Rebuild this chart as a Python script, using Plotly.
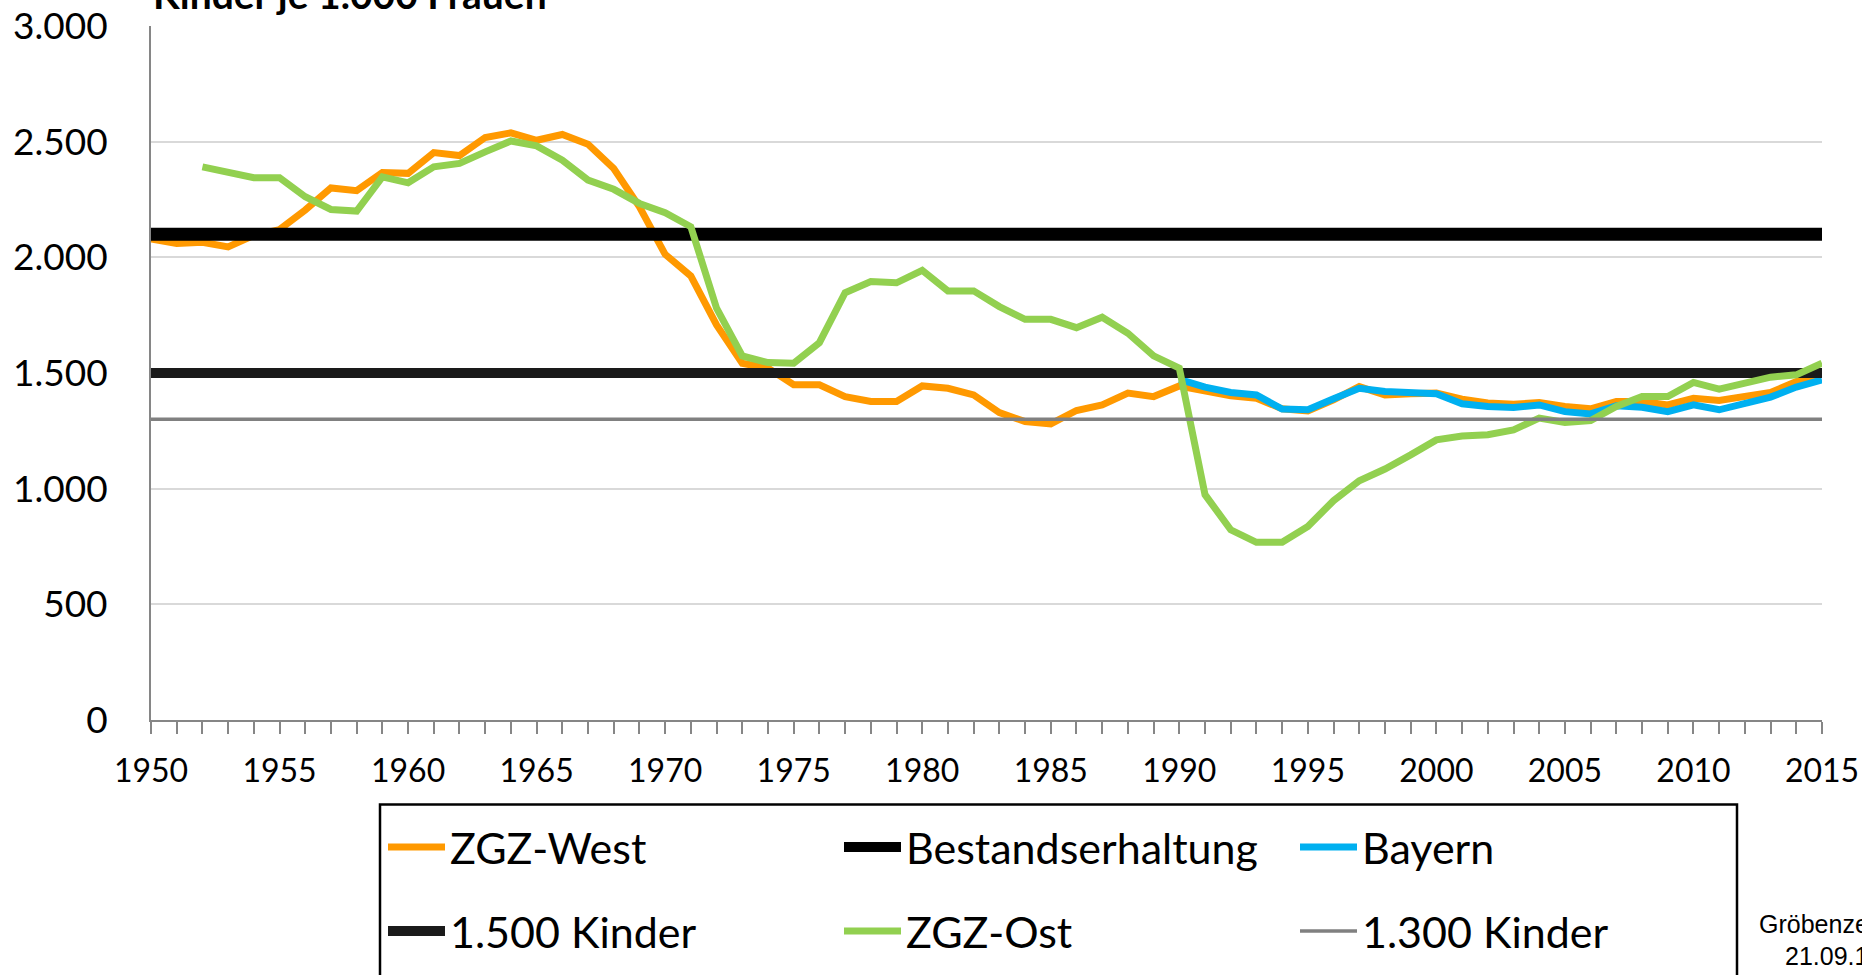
import plotly.graph_objects as go

# ---------------- data ----------------
years = list(range(1950, 2016))
zgz_west = [2080, 2060, 2065, 2045, 2095, 2120, 2205, 2300, 2288, 2367,
            2363, 2453, 2440, 2518, 2538, 2506, 2531, 2489, 2384, 2218,
            2013, 1919, 1708, 1542, 1521, 1449, 1449, 1398, 1377, 1377,
            1444, 1434, 1405, 1329, 1290, 1280, 1338, 1362, 1413, 1398,
            1444, 1420, 1401, 1391, 1345, 1336, 1384, 1441, 1405, 1410,
            1413, 1387, 1370, 1365, 1372, 1355, 1345, 1377, 1377, 1362,
            1391, 1381, 1401, 1416, 1463, 1495]

years_ost = list(range(1952, 2016))
zgz_ost = [2391, 2365, 2344, 2344, 2262, 2207, 2200, 2348,
           2322, 2391, 2406, 2456, 2503, 2482, 2420, 2334, 2294, 2233,
           2193, 2132, 1780, 1574, 1545, 1542, 1631, 1847, 1895, 1890,
           1944, 1855, 1855, 1787, 1732, 1732, 1696, 1741, 1672, 1574,
           1521, 974, 822, 768, 768, 837, 948, 1034, 1085, 1146,
           1211, 1228, 1233, 1254, 1305, 1286, 1294, 1355, 1398, 1398,
           1459, 1430, 1456, 1482, 1492, 1542]

years_bayern = list(range(1990, 2016))
bayern = [1472, 1439, 1416, 1405, 1344, 1341, 1389, 1434, 1420, 1413,
          1410, 1367, 1355, 1351, 1362, 1333, 1323, 1358, 1352, 1333,
          1362, 1341, 1372, 1396, 1439, 1470]

ref_years = [1950, 2015]
bestandserhaltung = [2100, 2100]
kinder_1500 = [1500, 1500]
kinder_1300 = [1300, 1300]

x_ticks = [1950, 1955, 1960, 1965, 1970, 1975, 1980, 1985, 1990, 1995,
           2000, 2005, 2010, 2015]
y_ticks = [0, 500, 1000, 1500, 2000, 2500, 3000]

title_text = "Kinder je 1.000 Frauen"
note_line1 = "Gröbenzell"
note_line2 = "21.09.16"

# ---------------- figure ----------------
W, H = 1862, 975
L, R, T, B = 151, 40, 26, 254.5
PW = W - L - R
PH = H - T - B


def px_x(p):
    return (p - L) / PW


def px_y(p):
    return (H - B - p) / PH


fig = go.Figure()
fig.add_trace(go.Scatter(x=years, y=zgz_west, name="ZGZ-West", mode="lines",
                         line=dict(color="#FF9900", width=7), legend="legend"))
fig.add_trace(go.Scatter(x=ref_years, y=bestandserhaltung, name="Bestandserhaltung",
                         mode="lines", line=dict(color="#000000", width=13),
                         legend="legend"))
fig.add_trace(go.Scatter(x=years_bayern, y=bayern, name="Bayern", mode="lines",
                         line=dict(color="#00B0F0", width=7), legend="legend"))
fig.add_trace(go.Scatter(x=ref_years, y=kinder_1500, name="1.500 Kinder",
                         mode="lines", line=dict(color="#1A1A1A", width=10),
                         legend="legend2"))
fig.add_trace(go.Scatter(x=years_ost, y=zgz_ost, name="ZGZ-Ost", mode="lines",
                         line=dict(color="#92D050", width=7), legend="legend2"))
fig.add_trace(go.Scatter(x=ref_years, y=kinder_1300, name="1.300 Kinder",
                         mode="lines", line=dict(color="#808080", width=3.5),
                         legend="legend2"))

axis_gray = "#868686"
legend_common = dict(orientation="h", xanchor="left", yref="container",
                     yanchor="middle", font=dict(size=43, family="Lato", color="#000"),
                     entrywidth=384, entrywidthmode="pixels", itemwidth=57,
                     bgcolor="rgba(0,0,0,0)", borderwidth=0, traceorder="normal")

fig.update_layout(
    width=W, height=H,
    margin=dict(l=L, r=R, t=T, b=B, autoexpand=False),
    paper_bgcolor="white", plot_bgcolor="white",
    separators=",.",
    font=dict(family="Lato", color="#000000"),
    showlegend=True,
    xaxis=dict(range=[1950, 2015], tickvals=x_ticks, ticks="outside", ticklen=12,
               tickwidth=1.5, tickcolor=axis_gray, showline=True, linecolor=axis_gray,
               linewidth=2, showgrid=False, zeroline=False,
               tickfont=dict(size=32, family="Lato", color="#000"),
               ticklabelstandoff=10,
               minor=dict(dtick=1, tick0=1950, ticks="outside", ticklen=12,
                          tickwidth=1.5, tickcolor=axis_gray, showgrid=False)),
    yaxis=dict(range=[0, 3000], tickvals=y_ticks, tickformat=",d", showgrid=True,
               gridcolor="#D9D9D9", gridwidth=1.5, showline=True, linecolor=axis_gray,
               linewidth=2, zeroline=False, ticks="",
               tickfont=dict(size=37, family="Lato", color="#000"),
               ticklabelstandoff=34),
    legend=dict(x=px_x(383), y=1 - 847 / H, **legend_common),
    legend2=dict(x=px_x(383), y=1 - 931 / H, **legend_common),
)

fig.add_shape(type="rect", xref="paper", yref="paper",
              x0=px_x(380), x1=px_x(1737), y0=px_y(805), y1=px_y(995),
              line=dict(color="#000000", width=2.5), fillcolor="rgba(0,0,0,0)")

fig.add_annotation(text="<b>" + title_text + "</b>", xref="paper", yref="paper",
                   x=0, y=1, xanchor="left", yanchor="bottom", yshift=7,
                   showarrow=False, font=dict(size=39, family="Lato", color="#000"))
fig.add_annotation(text=note_line1, xref="paper", yref="paper",
                   x=px_x(1757), y=px_y(925), xanchor="left", yanchor="middle",
                   showarrow=False, font=dict(size=25, family="Liberation Sans", color="#000"))
fig.add_annotation(text=note_line2, xref="paper", yref="paper",
                   x=px_x(1783), y=px_y(957), xanchor="left", yanchor="middle",
                   showarrow=False, font=dict(size=25, family="Liberation Sans", color="#000"))

fig.write_html("out.html", config={"displayModeBar": False},
               post_script="document.body.style.margin='0';document.body.style.overflow='hidden';")
